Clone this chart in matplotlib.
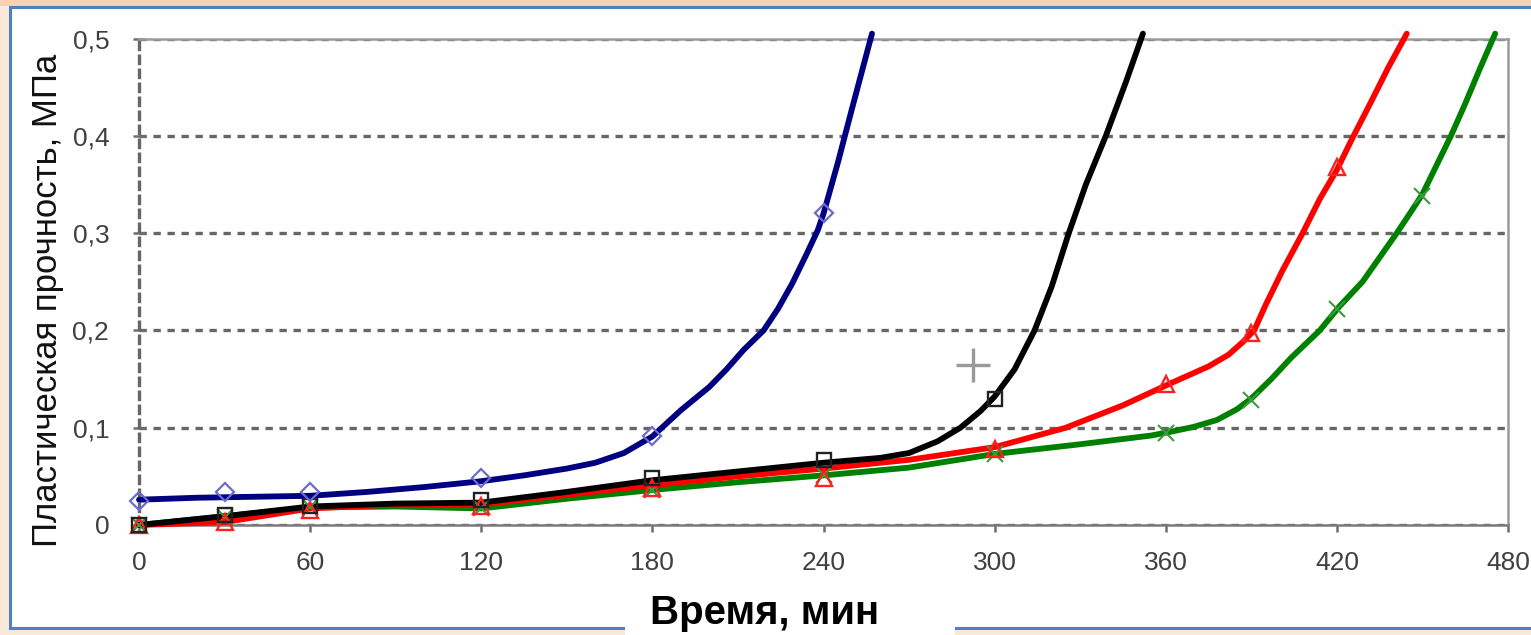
import matplotlib
matplotlib.use('Agg')
import matplotlib.pyplot as plt
from matplotlib.patches import Rectangle

plt.rcParams['font.family'] = ['Liberation Sans', 'DejaVu Sans']

# точки замеров
t_pts = [0, 30, 60, 120, 180, 240, 300, 360, 390, 420, 450]

blue_t = [0, 30, 60, 120, 180, 240]
blue_y = [0.025, 0.034, 0.034, 0.048, 0.091, 0.321]

black_t = [0, 30, 60, 120, 180, 240, 300]
black_y = [0.0, 0.010, 0.020, 0.026, 0.048, 0.067, 0.130]

red_t = [0, 30, 60, 120, 180, 240, 300, 360, 390, 420]
red_y = [0.0, 0.003, 0.015, 0.020, 0.038, 0.048, 0.078, 0.145, 0.197, 0.368]

green_t = t_pts
green_y = [0.0, 0.008, 0.018, 0.017, 0.036, 0.051, 0.073, 0.095, 0.128, 0.222, 0.338]

extra_t = [292.5]
extra_y = [0.164]

# сглаженные линии
blue_ct = [0, 20, 40, 60, 80, 100, 120, 135, 150, 160, 170, 180, 190, 200, 206, 212,
           219, 224, 229, 234, 238, 240, 245, 250, 254, 257]
blue_cy = [0.026, 0.028, 0.029, 0.030, 0.034, 0.039, 0.045, 0.051, 0.058, 0.064, 0.074,
           0.091, 0.118, 0.142, 0.160, 0.180, 0.200, 0.222, 0.248, 0.278, 0.303, 0.320,
           0.372, 0.428, 0.472, 0.505]

black_ct = [0, 30, 60, 90, 120, 150, 180, 210, 240, 260, 270, 280, 288, 295, 300, 307,
            314, 320, 326, 332, 339, 346, 352]
black_cy = [0.0, 0.009, 0.019, 0.022, 0.023, 0.034, 0.046, 0.055, 0.064, 0.069, 0.074,
            0.086, 0.100, 0.117, 0.132, 0.160, 0.200, 0.245, 0.300, 0.350, 0.400, 0.455, 0.505]

red_ct = [0, 30, 60, 90, 120, 150, 180, 210, 240, 270, 300, 325, 345, 362, 375, 382,
          387, 391, 395, 401, 408, 414, 420, 425, 432, 438, 444.5]
red_cy = [0.0, 0.003, 0.017, 0.021, 0.021, 0.031, 0.041, 0.050, 0.058, 0.067, 0.080,
          0.100, 0.123, 0.146, 0.163, 0.175, 0.188, 0.200, 0.226, 0.262, 0.300, 0.335,
          0.365, 0.395, 0.435, 0.470, 0.505]

green_ct = [0, 30, 60, 90, 120, 150, 180, 210, 240, 270, 300, 330, 355, 362, 370, 378,
            385, 390, 397, 404, 414, 421, 429, 435, 441, 446, 450, 455, 460, 465, 470, 475.5]
green_cy = [0.0, 0.009, 0.018, 0.019, 0.017, 0.027, 0.036, 0.044, 0.051, 0.059, 0.073,
            0.083, 0.092, 0.096, 0.101, 0.108, 0.119, 0.130, 0.150, 0.172, 0.200, 0.225,
            0.250, 0.275, 0.300, 0.322, 0.340, 0.370, 0.400, 0.433, 0.468, 0.505]

x_ticks = [0, 60, 120, 180, 240, 300, 360, 420, 480]
y_ticks = [0, 0.1, 0.2, 0.3, 0.4, 0.5]
y_labels = ['0', '0,1', '0,2', '0,3', '0,4', '0,5']

W, H = 1531, 635
fig = plt.figure(figsize=(W / 100, H / 100), dpi=100)
fig.patch.set_facecolor('#FCE8D9')

# фон слайда
fig.patches.append(Rectangle((0, (H - 6) / H), 1, 6 / H, transform=fig.transFigure,
                             facecolor='#F9D1B3', edgecolor='none', zorder=-3))
fig.patches.append(Rectangle((10 / W, (H - 628) / H), 1.0, (628 - 7) / H,
                             transform=fig.transFigure, facecolor='white',
                             edgecolor='#4F81BD', lw=2.2, zorder=-2))

ax = fig.add_axes([139 / W, (H - 525) / H, 1369 / W, 486.5 / H])
ax.set_facecolor('white')

lw = 4.2
ax.plot(green_ct, green_cy, color='#008000', lw=lw, solid_capstyle='round', solid_joinstyle='round', clip_on=False, zorder=3)
ax.plot(red_ct, red_cy, color='#FF0000', lw=lw, solid_capstyle='round', solid_joinstyle='round', clip_on=False, zorder=4)
ax.plot(black_ct, black_cy, color='black', lw=lw, solid_capstyle='round', solid_joinstyle='round', clip_on=False, zorder=5)
ax.plot(blue_ct, blue_cy, color='#000080', lw=lw, solid_capstyle='round', solid_joinstyle='round', clip_on=False, zorder=6)

ax.plot(green_t, green_y, 'x', color='#3c9a3c', ms=12, mew=1.5, ls='none', clip_on=False, zorder=7)
ax.plot(red_t, red_y, '^', color='#FF2020', mfc='none', ms=12, mew=1.7, ls='none', clip_on=False, zorder=7)
ax.plot(black_t, black_y, 's', color='#222222', mfc='none', ms=10.5, mew=1.7, ls='none', clip_on=False, zorder=7)
ax.plot(blue_t, blue_y, 'D', color='#6a6ad0', mfc='none', ms=9.5, mew=1.6, ls='none', clip_on=False, zorder=7)
ax.plot(extra_t, extra_y, '+', color='#9a9a9a', ms=25, mew=2.4, ls='none', zorder=7)

ax.set_xlim(0, 480)
ax.set_ylim(0, 0.5)
ax.set_xticks(x_ticks)
ax.set_xticklabels([str(v) for v in x_ticks])
ax.set_yticks(y_ticks)
ax.set_yticklabels(y_labels)

ax.yaxis.grid(True, color='#666666', lw=2.4, ls=(0, (2.2, 2.0)))
ax.set_axisbelow(True)

for s in ['top', 'right', 'bottom']:
    ax.spines[s].set_color('#9a9a9a')
    ax.spines[s].set_linewidth(1.8)
ax.spines['bottom'].set_color('#7a7a7a')
ax.spines['left'].set_color('#666666')
ax.spines['left'].set_linewidth(2.4)
ax.spines['left'].set_linestyle((0, (2.2, 2.0)))

ax.tick_params(axis='x', direction='out', length=5, width=1.8, color='#6e6e6e',
               labelsize=19, labelcolor='#404040', pad=14)
ax.tick_params(axis='y', direction='inout', length=9, width=1.8, color='#6e6e6e',
               labelsize=19, labelcolor='#404040', pad=17)

ax.set_ylabel('Пластическая прочность, МПа', fontsize=25, color='#111111')
ax.yaxis.set_label_coords((64 - 139) / 1369, (525 - 300) / 486.5)

# подпись оси X в белой плашке поверх рамки
fig.patches.append(Rectangle((625 / W, 0), 330 / W, 38 / H, transform=fig.transFigure,
                             facecolor='white', edgecolor='none', zorder=2))
fig.text(765 / W, (H - 613) / H, 'Время, мин', fontsize=29, fontweight='bold',
         ha='center', va='center', color='black', zorder=3)

fig.savefig('out.png', dpi=100, facecolor=fig.get_facecolor())
